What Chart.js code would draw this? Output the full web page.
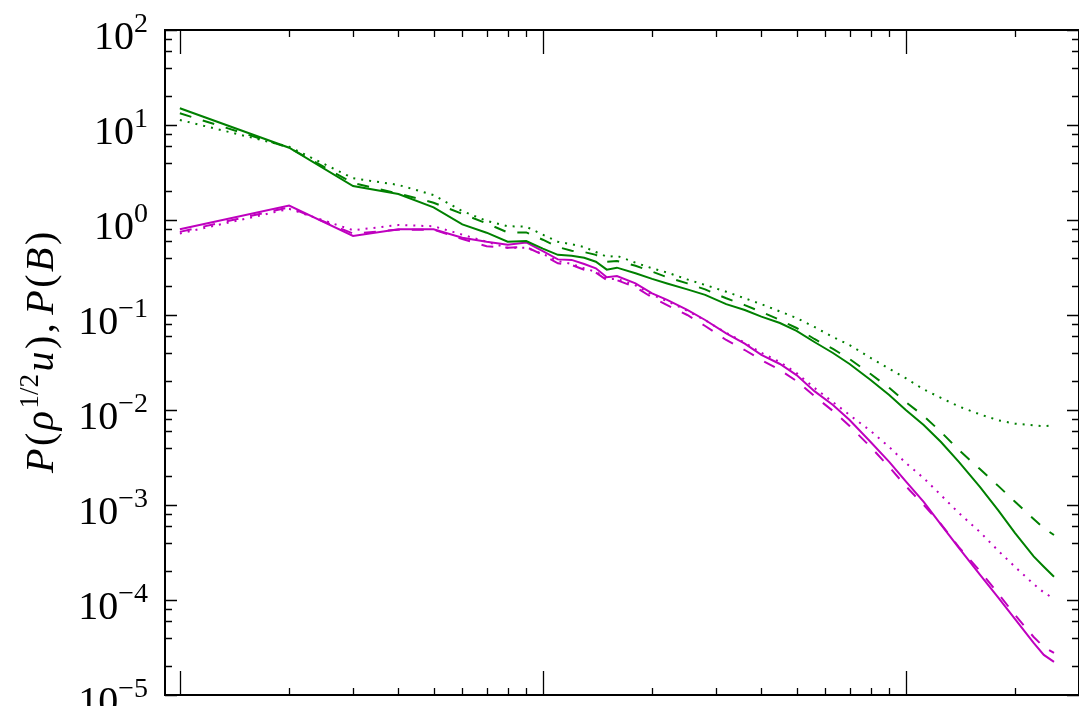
<!DOCTYPE html>
<html>
<head>
<meta charset="utf-8">
<script src="https://cdn.jsdelivr.net/npm/chart.js@4.4.1/dist/chart.umd.min.js"></script>
<style>
  html, body { margin: 0; padding: 0; background: #fff; overflow: hidden; }
</style>
</head>
<body>
<canvas id="chart" width="1079" height="706"></canvas>
<script>
// wavenumbers
const k = [1, 2, 3, 4, 5, 6, 7, 8, 9, 10, 11, 12, 13, 14, 15, 16, 18, 20, 22, 25, 28, 32, 36, 40,
  45, 50, 56, 63, 70, 80, 90, 100, 112, 125, 140, 160, 180, 200, 225, 240, 256];

// P(rho^1/2 u), green
const kinSolid = [15.0, 5.77, 2.28, 1.88, 1.36, 0.90, 0.735, 0.59, 0.60, 0.50, 0.43, 0.42, 0.40, 0.364,
  0.30, 0.315, 0.275, 0.24, 0.215, 0.186, 0.163, 0.13, 0.113, 0.096, 0.0824, 0.0679, 0.052, 0.0398,
  0.0305, 0.0207, 0.0144, 0.0100, 0.00695, 0.0046, 0.00284, 0.00155, 0.000873, 0.000507, 0.000288,
  0.000224, 0.000176];
const kinDashed = [13.3, 5.77, 2.45, 1.9, 1.52, 1.16, 0.92, 0.74, 0.74, 0.62, 0.52, 0.475, 0.46, 0.43,
  0.364, 0.37, 0.33, 0.286, 0.25, 0.215, 0.186, 0.15, 0.127, 0.108, 0.0886, 0.073, 0.0559, 0.0439,
  0.0344, 0.0239, 0.0171, 0.0121, 0.00865, 0.00587, 0.00379, 0.00239, 0.00158, 0.00108, 0.000712,
  0.00057, 0.000483];
const kinDotted = [11.3, 5.9, 2.75, 2.34, 1.83, 1.24, 0.98, 0.86, 0.85, 0.70, 0.59, 0.555, 0.52, 0.46,
  0.41, 0.42, 0.355, 0.31, 0.28, 0.237, 0.207, 0.176, 0.15, 0.13, 0.109, 0.093, 0.0748, 0.0587,
  0.0483, 0.0353, 0.0272, 0.0216, 0.0165, 0.0134, 0.0109, 0.009, 0.00778, 0.00718, 0.0069,
  0.00675, 0.0069];

// P(B), magenta
const magSolid = [0.80, 1.42, 0.68, 0.80, 0.80, 0.65, 0.59, 0.55, 0.58, 0.47, 0.385, 0.38, 0.344, 0.31,
  0.25, 0.257, 0.215, 0.169, 0.144, 0.113, 0.0886, 0.064, 0.050, 0.038, 0.0305, 0.0233, 0.0158, 0.0113,
  0.00785, 0.0046, 0.00284, 0.00177, 0.00108, 0.000623, 0.000353, 0.000185, 0.000105, 6.3e-5, 3.53e-5,
  2.64e-5, 2.23e-5];
const magDashed = [0.75, 1.36, 0.72, 0.79, 0.79, 0.63, 0.53, 0.51, 0.52, 0.43, 0.35, 0.336, 0.30, 0.28,
  0.233, 0.233, 0.196, 0.153, 0.127, 0.10, 0.0766, 0.0546, 0.0428, 0.0336, 0.0264, 0.0202, 0.014, 0.00976,
  0.00679, 0.00408, 0.00251, 0.00158, 0.001, 0.00063, 0.000361, 0.000202, 0.000116, 6.95e-5, 4.08e-5,
  3.2e-5, 2.77e-5];
const magDotted = [0.72, 1.31, 0.78, 0.885, 0.86, 0.70, 0.59, 0.51, 0.51, 0.44, 0.37, 0.345, 0.31, 0.285,
  0.24, 0.24, 0.205, 0.163, 0.14, 0.111, 0.088, 0.065, 0.051, 0.040, 0.032, 0.0245, 0.0171, 0.0121,
  0.00886, 0.00601, 0.00408, 0.00277, 0.00192, 0.00127, 0.000824, 0.00052, 0.000328, 0.000223, 0.000147,
  0.00012, 0.000103];

// y tick labels are 10^e
const yTickExps = [2, 1, 0, -1, -2, -3, -4, -5];
const yMinorSubs = [2, 4, 6, 8];

const GREEN = "#008000";
const MAGENTA = "#bf00bf";
const SERIF = '"Liberation Serif", "DejaVu Serif", serif';

function series(vals, color, dash) {
  return {
    data: k.map((kk, i) => ({ x: kk, y: vals[i] })),
    borderColor: color,
    borderWidth: 2,
    borderDash: dash,
    pointRadius: 0,
    tension: 0,
    fill: false,
  };
}

const DASHED = [12, 12];
const DOTTED = [2, 6];

// axes frame, inward ticks, 10^n labels and rotated y title
const frame = {
  id: "frame",
  afterDraw(chart) {
    const { ctx, chartArea: a, scales } = chart;
    const x = scales.x, y = scales.y;
    ctx.save();
    ctx.strokeStyle = "#000";
    ctx.lineWidth = 1.3;
    ctx.beginPath();
    for (let e = -1; e <= 3; e++) {
      for (let m = 1; m <= 9; m++) {
        const v = m * Math.pow(10, e);
        if (v < x.min || v > x.max) continue;
        const px = Math.round(x.getPixelForValue(v)) + 0.5;
        const len = m === 1 ? 24 : 7;
        ctx.moveTo(px, a.bottom); ctx.lineTo(px, a.bottom - len);
        ctx.moveTo(px, a.top); ctx.lineTo(px, a.top + len);
      }
    }
    for (let e = -5; e <= 2; e++) {
      [1, ...yMinorSubs].forEach(m => {
        const v = m * Math.pow(10, e);
        if (v < y.min * 0.999 || v > y.max * 1.001) return;
        const py = Math.round(y.getPixelForValue(v)) + 0.5;
        const len = m === 1 ? 12 : 7;
        ctx.moveTo(a.left, py); ctx.lineTo(a.left + len, py);
        ctx.moveTo(a.right, py); ctx.lineTo(a.right - len, py);
      });
    }
    ctx.stroke();

    ctx.lineWidth = 2;
    ctx.strokeRect(a.left, a.top, a.right - a.left, a.bottom - a.top);

    // tick labels
    ctx.fillStyle = "#000";
    ctx.textAlign = "left";
    ctx.textBaseline = "alphabetic";
    yTickExps.forEach(e => {
      const py = y.getPixelForValue(Math.pow(10, e));
      const sup = e < 0 ? "\u2212" + (-e) : String(e);
      ctx.font = "28px " + SERIF;
      const supW = ctx.measureText(sup).width;
      ctx.font = "40px " + SERIF;
      const baseW = ctx.measureText("10").width;
      const right = 148;
      ctx.fillText("10", right - supW - baseW, py + 19);
      ctx.font = "28px " + SERIF;
      ctx.fillText(sup, right - supW, py + 2);
    });

    // y title: P(rho^{1/2}u),P(B)
    const parts = [
      { t: "P", it: true }, { t: "(" }, { t: "\u03c1", it: true }, { t: "1/2", sup: true },
      { t: "u", it: true }, { t: ")" }, { t: ",", gap: 0.15 }, { t: "P", it: true },
      { t: "(" }, { t: "B", it: true }, { t: ")" },
    ];
    const size = 40;
    const fontOf = p => p.sup ? (27 + "px " + SERIF)
      : ((p.it ? "italic " : "") + size + "px " + SERIF);
    let total = 0;
    parts.forEach(p => {
      ctx.font = fontOf(p);
      p.w = ctx.measureText(p.t).width + (p.gap || 0) * size + 2.5;
      total += p.w;
    });
    const bottom = 473;
    ctx.translate(53, bottom - total / 2);
    ctx.rotate(-Math.PI / 2);
    let cx = -total / 2;
    parts.forEach(p => {
      ctx.font = fontOf(p);
      ctx.fillText(p.t, cx, p.sup ? -15 : 0);
      cx += p.w;
    });
    ctx.restore();
  },
};

new Chart(document.getElementById("chart"), {
  type: "line",
  data: {
    datasets: [
      series(kinSolid, GREEN, []),
      series(kinDashed, GREEN, DASHED),
      series(kinDotted, GREEN, DOTTED),
      series(magSolid, MAGENTA, []),
      series(magDashed, MAGENTA, DASHED),
      series(magDotted, MAGENTA, DOTTED),
    ],
  },
  options: {
    responsive: false,
    animation: false,
    devicePixelRatio: 1,
    layout: { padding: { left: 165, top: 30, right: 0, bottom: 11 } },
    plugins: { legend: { display: false }, tooltip: { enabled: false } },
    scales: {
      x: { type: "logarithmic", min: 0.91, max: 300, display: false },
      y: { type: "logarithmic", min: 1e-5, max: 100, display: false },
    },
  },
  plugins: [frame],
});
</script>
</body>
</html>
